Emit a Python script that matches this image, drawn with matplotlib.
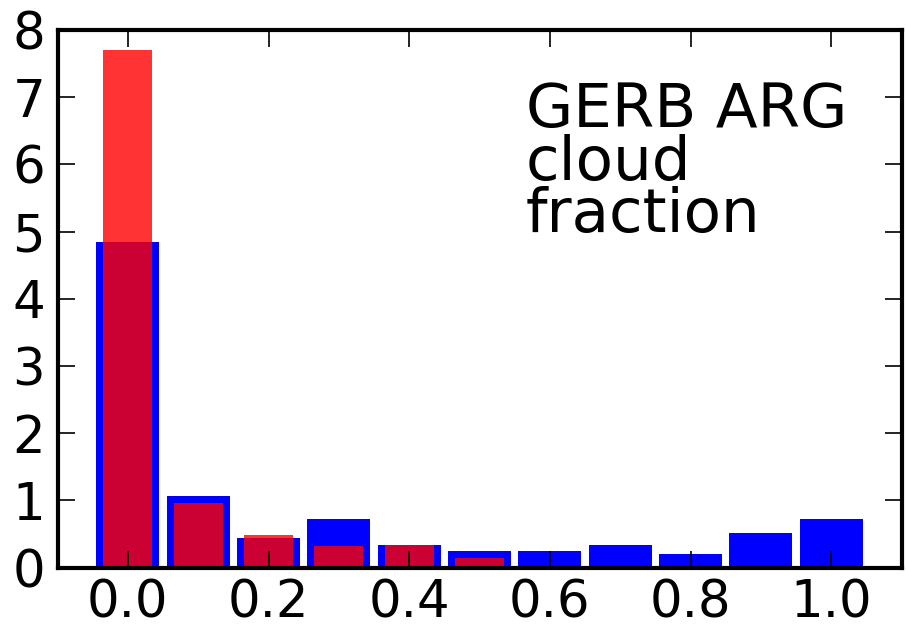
import matplotlib
matplotlib.use("Agg")
import matplotlib.pyplot as plt

# bin centres of the cloud fraction histogram
bin_centres = [0.0, 0.1, 0.2, 0.3, 0.4, 0.5, 0.6, 0.7, 0.8, 0.9, 1.0]
# normalised frequencies
blue_vals = [4.84, 1.07, 0.44, 0.72, 0.34, 0.25, 0.25, 0.33, 0.20, 0.51, 0.72]
red_vals = [7.70, 0.96, 0.48, 0.32, 0.33, 0.14, 0.0, 0.0, 0.0, 0.0, 0.0]

xticks = [0.0, 0.2, 0.4, 0.6, 0.8, 1.0]
yticks = [0, 1, 2, 3, 4, 5, 6, 7, 8]

fig = plt.figure(figsize=(9.06, 6.31), dpi=100)
ax = fig.add_axes([57.5 / 906, (631 - 567.5) / 631, (901.5 - 57.5) / 906, (567.5 - 30) / 631])

ax.bar(bin_centres, blue_vals, width=0.09, color='#0000ff', linewidth=0)
ax.bar(bin_centres, red_vals, width=0.07, color='#ff0000', alpha=0.8, linewidth=0)

ax.set_xlim(-0.1, 1.1)
ax.set_ylim(0, 8)
ax.set_xticks(xticks)
ax.set_xticklabels(['%.1f' % t for t in xticks])
ax.set_yticks(yticks)

for s in ax.spines.values():
    s.set_linewidth(3)
ax.tick_params(direction='in', length=12, width=1.2, labelsize=37,
               top=True, right=True)
ax.tick_params(axis='x', pad=8)
ax.tick_params(axis='y', pad=9)

ax.text(0.555, 0.905, 'GERB ARG\ncloud\nfraction', transform=ax.transAxes,
        fontsize=44, va='top', ha='left', linespacing=0.86)

fig.savefig('out.png', dpi=100)
